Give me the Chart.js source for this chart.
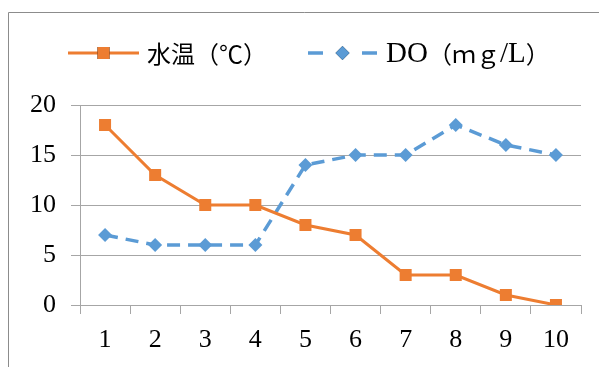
<!DOCTYPE html>
<html>
<head>
<meta charset="utf-8">
<script src="https://cdn.jsdelivr.net/npm/chart.js@4/dist/chart.umd.min.js"></script>
<style>
  html, body { margin: 0; padding: 0; background: #fff; }
  #wrap { position: relative; width: 599px; height: 367px; overflow: hidden; }
  canvas { display: block; }
</style>
</head>
<body>
<div id="wrap"><canvas id="c" width="599" height="367"></canvas></div>
<script>
// Sampling points 1–10
const categories = ['1', '2', '3', '4', '5', '6', '7', '8', '9', '10'];
// Water temperature (°C)
const waterTemp = [18, 13, 10, 10, 8, 7, 3, 3, 1, 0];
// Dissolved oxygen (mg/L)
const dissolvedOxygen = [7, 6, 6, 6, 14, 15, 15, 18, 16, 15];
const seriesNames = ['水温（℃）', 'DO（ｍｇ/L）'];
const yTicks = [0, 5, 10, 15, 20];

const FONT = "'Liberation Serif', 'Noto Sans CJK JP', serif";
const ORANGE = '#ED7D31';
const BLUE = '#5B9BD5';

// Draws a label char by char: half-width glyphs in a larger serif, full-width in CJK
function drawMixedText(ctx, text, x, y) {
  for (const ch of text) {
    const ascii = ch.charCodeAt(0) < 128;
    ctx.font = ascii ? "29px 'Liberation Serif', serif" : "24px 'Noto Sans CJK JP', sans-serif";
    ctx.fillText(ch, x, y);
    x += ctx.measureText(ch).width;
  }
}

// Outer frame and a line+marker legend drawn above the plot
const frameAndLegend = {
  id: 'frameAndLegend',
  beforeDraw(chart) {
    const ctx = chart.ctx;
    ctx.save();
    ctx.strokeStyle = '#8c8c8c';
    ctx.lineWidth = 1;
    ctx.beginPath();
    ctx.moveTo(8.5, 400);
    ctx.lineTo(8.5, 12.5);
    ctx.lineTo(700, 12.5);
    ctx.stroke();
    ctx.restore();
  },
  afterDraw(chart) {
    const ctx = chart.ctx;
    const items = [
      { x0: 68, x1: 139, tx: 147 },
      { x0: 308, x1: 377, tx: 386 }
    ];
    const y = 53;
    chart.data.datasets.forEach((ds, i) => {
      const it = items[i];
      const cx = (it.x0 + it.x1) / 2;
      ctx.save();
      ctx.strokeStyle = ds.borderColor;
      ctx.lineWidth = ds.borderWidth;
      ctx.beginPath();
      if (ds.borderDash) {
        // one short dash either side of the marker
        ctx.moveTo(it.x0, y); ctx.lineTo(it.x0 + 15, y);
        ctx.moveTo(it.x1 - 15, y); ctx.lineTo(it.x1, y);
      } else {
        ctx.moveTo(it.x0, y); ctx.lineTo(it.x1, y);
      }
      ctx.stroke();
      Chart.helpers.drawPoint(ctx, {
        pointStyle: ds.pointStyle,
        radius: ds.pointRadius,
        rotation: 0,
        borderWidth: 0
      }, cx, y);
      ctx.fillStyle = ds.pointBackgroundColor;
      ctx.fill();
      ctx.fillStyle = '#000';
      ctx.textBaseline = 'middle';
      ctx.textAlign = 'left';
      drawMixedText(ctx, ds.label, it.tx, y + 1);
      ctx.restore();
    });
  }
};

new Chart(document.getElementById('c'), {
  type: 'line',
  data: {
    labels: categories,
    datasets: [
      {
        label: seriesNames[0],
        data: waterTemp,
        borderColor: ORANGE,
        backgroundColor: ORANGE,
        pointBackgroundColor: ORANGE,
        pointBorderColor: ORANGE,
        borderWidth: 3,
        pointStyle: 'rect',
        pointRadius: 8.5,
        pointBorderWidth: 0,
        tension: 0
      },
      {
        label: seriesNames[1],
        data: dissolvedOxygen,
        borderColor: BLUE,
        backgroundColor: BLUE,
        pointBackgroundColor: BLUE,
        pointBorderColor: BLUE,
        borderWidth: 3.5,
        borderDash: [13, 8],
        pointStyle: 'rectRot',
        pointRadius: 7,
        pointBorderWidth: 0,
        tension: 0
      }
    ]
  },
  options: {
    responsive: false,
    animation: false,
    events: [],
    layout: { padding: { left: 0, right: 18, top: 105, bottom: 0 } },
    plugins: {
      legend: { display: false },
      tooltip: { enabled: false }
    },
    scales: {
      x: {
        type: 'category',
        offset: true,
        afterFit(s) { s.height = 62; },
        grid: {
          offset: true,
          drawOnChartArea: false,
          drawTicks: true,
          tickLength: 9,
          color: '#a6a6a6',
          lineWidth: 1
        },
        border: { display: true, color: '#a6a6a6', width: 1 },
        ticks: {
          color: '#000',
          font: { family: FONT, size: 26 },
          padding: 11,
          maxRotation: 0
        }
      },
      y: {
        min: 0,
        max: 20,
        afterFit(s) { s.width = 80; },
        afterBuildTicks(s) { s.ticks = yTicks.map(v => ({ value: v })); },
        grid: {
          color: '#a6a6a6',
          lineWidth: 1,
          tickLength: 9
        },
        border: { display: true, color: '#a6a6a6', width: 1 },
        ticks: {
          color: '#000',
          font: { family: FONT, size: 26 },
          padding: 15
        }
      }
    }
  },
  plugins: [frameAndLegend]
});
</script>
</body>
</html>
